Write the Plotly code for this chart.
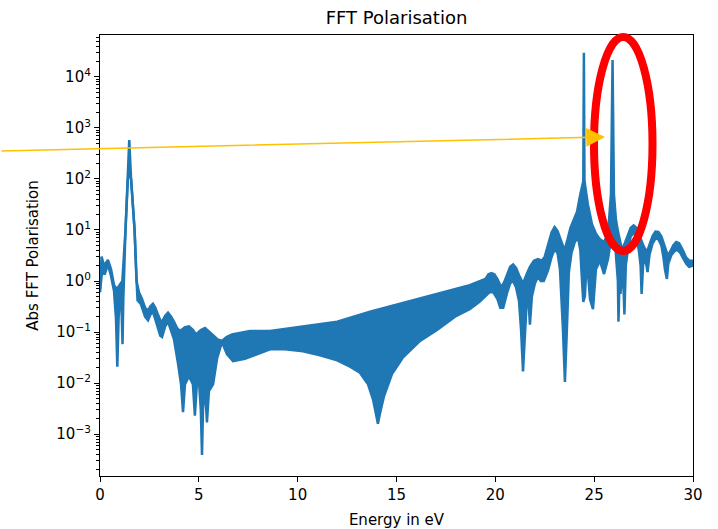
import plotly.graph_objects as go

# Upper envelope of the oscillating FFT signal (energy in eV, |FFT|)
E_UP = [0.0, 0.08, 0.2, 0.4, 0.56, 0.71, 0.86, 1.01, 1.13, 1.29, 1.41, 1.48, 1.57, 1.75, 1.85,
        1.97, 2.12, 2.28, 2.43, 2.55, 2.68, 2.8, 2.93, 3.05, 3.14, 3.3, 3.44, 3.6, 3.74, 3.9,
        4.05, 4.3, 4.5, 4.7, 4.86, 5.1, 5.31, 5.5, 5.72, 5.95, 6.17, 6.4, 6.68, 7.0, 7.59,
        8.6, 10.1, 12.0, 13.66, 15.33, 17.05, 18.7, 19.5, 19.65, 19.8, 19.95, 20.1, 20.3, 20.45,
        20.6, 20.75, 20.9, 21.05, 21.2, 21.4, 21.6, 21.75, 21.95, 22.15, 22.35, 22.5, 22.66,
        22.85, 23.0, 23.15, 23.3, 23.5, 23.65, 23.8, 24.0, 24.13, 24.3, 24.45, 24.48, 24.51,
        24.68, 24.89, 25.09, 25.29, 25.5, 25.7, 25.85, 25.93, 26.0, 26.1, 26.2, 26.3, 26.4,
        26.55, 26.7, 26.85, 27.0, 27.15, 27.3, 27.5, 27.67, 27.8, 27.95, 28.1, 28.25, 28.4,
        28.55, 28.73, 28.85, 29.0, 29.15, 29.3, 29.5, 29.65, 29.8, 30.0]
V_UP = [0.7, 3.0, 2.0, 2.6, 1.7, 0.83, 0.7, 0.83, 1.0, 10, 105, 580, 105, 10, 1.0,
        0.6, 0.45, 0.3, 0.26, 0.32, 0.36, 0.3, 0.22, 0.17, 0.16, 0.21, 0.24, 0.2, 0.16, 0.12,
        0.105, 0.125, 0.13, 0.11, 0.09, 0.11, 0.12, 0.105, 0.087, 0.072, 0.067, 0.08, 0.09,
        0.095, 0.105,
        0.105, 0.125, 0.16, 0.25, 0.37, 0.56, 0.83, 1.1, 1.35, 1.43, 1.35, 1.1, 0.75, 0.95,
        1.4, 1.9, 2.1, 1.8, 1.3, 0.9, 1.4, 1.9, 2.5, 2.7, 2.5, 3.0, 5.0,
        9.0, 11.4, 9.5, 6.5, 4.0, 6.5, 11, 17, 22.5, 50, 90, 29500, 90,
        32, 13, 8.4, 6.6, 5.8, 8.4, 50, 21500, 50, 16, 9.5, 6.0, 4.2,
        5.5, 8.2, 11, 12.3, 11, 7.6, 4.8, 3.7, 5.0, 7.5, 9.3, 9.2, 7.5,
        5.0, 3.1, 3.8, 5.0, 5.8, 5.5, 3.9, 2.9, 2.5, 2.5]

# Lower envelope of the oscillating FFT signal
E_LO = [0.0, 0.1, 0.25, 0.4, 0.55, 0.71, 0.81, 0.875, 0.94, 1.01, 1.09, 1.14, 1.18, 1.29, 1.41,
        1.48, 1.57, 1.75, 1.85, 1.9, 2.07, 2.2, 2.28, 2.43, 2.55, 2.68, 2.8, 2.93, 3.05, 3.14,
        3.3, 3.44, 3.6, 3.74, 3.95, 4.1,
        4.2, 4.3, 4.5, 4.7, 4.8, 4.9, 5.0, 5.1, 5.16, 5.21, 5.31, 5.41, 5.51, 5.72, 5.92, 6.17,
        6.42, 6.73, 7.33, 7.94, 8.6, 9.36, 10.27, 11.13, 12.0, 12.65, 13.15, 13.56, 13.81,
        13.96, 14.06, 14.16, 14.37, 14.77, 15.33, 16.19, 17.05, 17.96, 18.7, 19.2, 19.7, 19.9,
        20.1, 20.25, 20.4, 20.6, 20.75, 20.9, 21.05, 21.2, 21.3, 21.4, 21.5, 21.6, 21.7, 21.75,
        21.85, 22.0, 22.15, 22.3, 22.45, 22.66, 22.85, 23.0, 23.15, 23.27, 23.42, 23.52, 23.62,
        23.72, 23.85, 24.03, 24.2, 24.3, 24.4, 24.45, 24.53, 24.63, 24.79,
        24.94, 25.09, 25.29, 25.5, 25.7, 25.85, 25.93, 26.08, 26.2, 26.23, 26.28, 26.33, 26.45,
        26.53, 26.6, 26.7, 26.85, 27.0, 27.15, 27.26, 27.35, 27.4, 27.48, 27.57, 27.65, 27.7,
        27.8, 27.95, 28.1, 28.25, 28.4, 28.5, 28.58, 28.68, 28.75, 28.9, 29.05, 29.2, 29.35,
        29.5, 29.65, 29.8, 30.0]
V_LO = [0.6, 1.5, 1.4, 2.1, 1.3, 0.64, 0.18, 0.021, 0.18, 0.55, 0.28, 0.058, 0.44, 10, 100,
        130, 100, 10, 1.0, 0.42, 0.35, 0.25, 0.2, 0.17, 0.22, 0.25, 0.18, 0.12, 0.085, 0.08,
        0.13, 0.16, 0.11, 0.073, 0.024, 0.0095,
        0.0027, 0.0095, 0.0137, 0.0095, 0.0023, 0.0095, 0.012, 0.003, 0.00039, 0.003, 0.0095,
        0.0017, 0.007, 0.0095, 0.03, 0.064,
        0.037, 0.027, 0.03, 0.037, 0.046, 0.046, 0.042, 0.035, 0.028, 0.021, 0.016, 0.0095, 0.0048,
        0.0025, 0.0016, 0.0025, 0.0056, 0.015, 0.032, 0.067, 0.11, 0.2, 0.28, 0.39, 0.6, 0.6,
        0.45, 0.3, 0.3, 0.6, 0.9, 1.0, 0.75, 0.4, 0.114, 0.017, 0.073, 0.5, 0.3, 0.14,
        0.5, 0.9, 1.2, 1.0, 1.0, 1.6, 3.0, 4.2, 3.5, 1.7, 0.114, 0.0105, 0.114,
        1.5, 3.5, 6.0, 6.6, 4.0, 0.8, 0.39, 0.5, 2.7, 0.44,
        0.28, 1.7, 2.5, 1.37, 2.7, 6.6, 10, 4.2, 1.0, 0.16, 1.0, 0.56, 2.0,
        0.22, 2.0, 4.0, 7.5, 8.8, 7.0, 4.0, 2.0, 0.56, 2.2, 2.5, 2.0, 1.5,
        3.3, 5.4, 6.8, 6.6, 5.0, 3.0, 1.7, 1.1, 2.2, 3.2, 3.8, 4.1, 3.6,
        2.8, 2.2, 1.9, 2.0]

X_TICKS = [0, 5, 10, 15, 20, 25, 30]
Y_TICKS = [1e-3, 1e-2, 1e-1, 1e0, 1e1, 1e2, 1e3, 1e4]
Y_TICKTEXT = ["10<sup>\u22123</sup>", "10<sup>\u22122</sup>", "10<sup>\u22121</sup>",
              "10<sup>0</sup>", "10<sup>1</sup>", "10<sup>2</sup>", "10<sup>3</sup>",
              "10<sup>4</sup>"]
TITLE = "FFT Polarisation"
X_LABEL = "Energy in eV"
Y_LABEL = "Abs FFT Polarisation"

BLUE = "#1f77b4"
FONT = "DejaVu Sans"

# minor tick positions of the log axis (2..9 times each decade)
minor_vals = [k * 10.0 ** d for d in range(-4, 5) for k in range(2, 10)]

fig = go.Figure()
fig.add_trace(go.Scatter(x=E_LO, y=V_LO, mode="lines",
                         line=dict(color=BLUE, width=2.5), showlegend=False, hoverinfo="skip"))
fig.add_trace(go.Scatter(x=E_UP, y=V_UP, mode="lines", fill="tonexty", fillcolor=BLUE,
                         line=dict(color=BLUE, width=2.5), showlegend=False))

W, H = 718, 529
ML, MR, MT, MB = 100, 25, 35, 53
pw, ph = W - ML - MR, H - MT - MB

def px(xp):
    return (xp - ML) / pw

def py(yp):
    return (H - MB - yp) / ph

axis_common = dict(showline=True, linecolor="black", linewidth=1.2, mirror=True,
                   ticks="outside", ticklen=5, tickwidth=1.1, tickcolor="black",
                   showgrid=False, zeroline=False, automargin=False,
                   tickfont=dict(family=FONT, size=15, color="black"))

fig.update_layout(
    width=W, height=H,
    margin=dict(l=ML, r=MR, t=MT, b=MB, pad=0, autoexpand=False),
    paper_bgcolor="white", plot_bgcolor="white",
    font=dict(family=FONT, color="black"),
    title=dict(text=TITLE, x=0.5, xref="paper", xanchor="center",
               y=1 - 18 / H, yref="container", yanchor="middle",
               font=dict(family=FONT, size=18, color="black")),
    xaxis=dict(range=[0, 30], tickvals=X_TICKS,
               title=dict(text=X_LABEL, font=dict(family=FONT, size=15, color="black"), standoff=18),
               **axis_common),
    yaxis=dict(type="log", range=[-3.82, 4.82], tickmode="array",
               tickvals=Y_TICKS, ticktext=Y_TICKTEXT,
               minor=dict(tickmode="array", tickvals=minor_vals, ticks="outside", ticklen=3,
                          tickcolor="black", showgrid=False),
               title=dict(text=Y_LABEL, font=dict(family=FONT, size=15, color="black"), standoff=14),
               **axis_common),
)

# red ellipse highlighting the second peak
fig.add_shape(type="circle", xref="paper", yref="paper",
              x0=px(594), x1=px(652.5), y0=py(251), y1=py(37),
              line=dict(color="#ff0000", width=8), layer="above")

# orange arrow pointing at the peak
fig.add_annotation(xref="paper", yref="paper", x=px(605), y=py(137),
                   ax=-605, ay=14, axref="pixel", ayref="pixel",
                   text="", showarrow=True, arrowhead=2, arrowsize=2.5, arrowwidth=1.5,
                   arrowcolor="#ffc000")

fig.write_html("out.html")
